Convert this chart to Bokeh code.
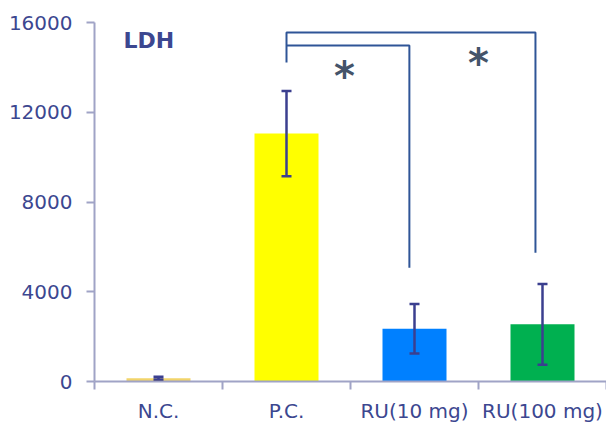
from bokeh.plotting import figure
from bokeh.models import Range1d, FixedTicker, Whisker, TeeHead, ColumnDataSource
from bokeh.core.properties import value
from bokeh.embed import file_html
from bokeh.resources import INLINE

# data
categories = ["N.C.", "P.C.", "RU(10 mg)", "RU(100 mg)"]
means = [150, 11050, 2350, 2550]
errors = [60, 1900, 1100, 1800]
bar_colors = ["#F2D46A", "#FFFF00", "#0080FF", "#00B050"]
y_ticks = [0, 4000, 8000, 12000, 16000]
# significance brackets (category index units, data values)
bracket_xs = [[1.5, 1.5, 3.445, 3.445], [1.5, 2.46, 2.46]]
bracket_ys = [[14222, 15556, 15556, 5733], [14978, 14978, 5067]]
star_x = [1.953, 3.0]
star_y = [13933, 14489]
title_text = "LDH"
title_x = 0.227
title_y = 15200

xpos = [i + 0.5 for i in range(len(categories))]

p = figure(width=606, height=425, output_backend="svg", toolbar_location=None,
           x_range=Range1d(0, len(categories)), y_range=Range1d(0, 16000),
           min_border_left=94, min_border_right=0, min_border_top=22, min_border_bottom=43)
p.outline_line_color = None
p.xgrid.visible = False
p.ygrid.visible = False
p.background_fill_color = "white"
p.border_fill_color = "white"

src = ColumnDataSource(dict(x=xpos, top=means, color=bar_colors,
                            upper=[m + e for m, e in zip(means, errors)],
                            lower=[m - e for m, e in zip(means, errors)]))
p.vbar(x="x", top="top", width=0.5, color="color", source=src, line_color=None)

err_col = "#3B3F8F"
w = Whisker(base="x", upper="upper", lower="lower", source=src, line_color=err_col, line_width=2.5,
            upper_head=TeeHead(size=10, line_color=err_col, line_width=2.5),
            lower_head=TeeHead(size=10, line_color=err_col, line_width=2.5),
            level="overlay")
p.add_layout(w)

p.multi_line(xs=bracket_xs, ys=bracket_ys, line_color="#2F5597", line_width=2)
p.text(x=star_x, y=star_y, text=["*", "*"], text_font=value("DejaVu Sans"),
       text_font_style="bold", text_font_size="40px", text_color="#44546A",
       text_align="center", text_baseline="middle", y_offset=7)

p.text(x=[title_x], y=[title_y], text=[title_text], text_font=value("DejaVu Sans"),
       text_font_style="bold", text_font_size="22px", text_color="#3C4790",
       text_align="left", text_baseline="alphabetic")

axis_col = "#A0A3C6"
lab_col = "#3C4790"

xa = p.xaxis[0]
xa.ticker = FixedTicker(ticks=xpos, minor_ticks=list(range(len(categories) + 1)))
xa.major_label_overrides = {x: c for x, c in zip(xpos, categories)}
xa.major_tick_out = 0
xa.major_tick_in = 0
xa.minor_tick_out = 8
xa.minor_tick_in = 0
xa.minor_tick_line_color = axis_col
xa.minor_tick_line_width = 2
xa.axis_line_color = axis_col
xa.axis_line_width = 2
xa.major_label_text_font = "DejaVu Sans"
xa.major_label_text_font_size = "20px"
xa.major_label_text_color = lab_col
xa.major_label_standoff = 9

ya = p.yaxis[0]
ya.ticker = FixedTicker(ticks=y_ticks)
ya.major_tick_out = 8
ya.major_tick_in = 0
ya.minor_tick_out = 0
ya.minor_tick_in = 0
ya.major_tick_line_color = axis_col
ya.major_tick_line_width = 2
ya.axis_line_color = axis_col
ya.axis_line_width = 2
ya.major_label_text_font = "DejaVu Sans"
ya.major_label_text_font_size = "20px"
ya.major_label_text_color = lab_col
ya.major_label_standoff = 14

open("out.html", "w").write(file_html(p, INLINE))
